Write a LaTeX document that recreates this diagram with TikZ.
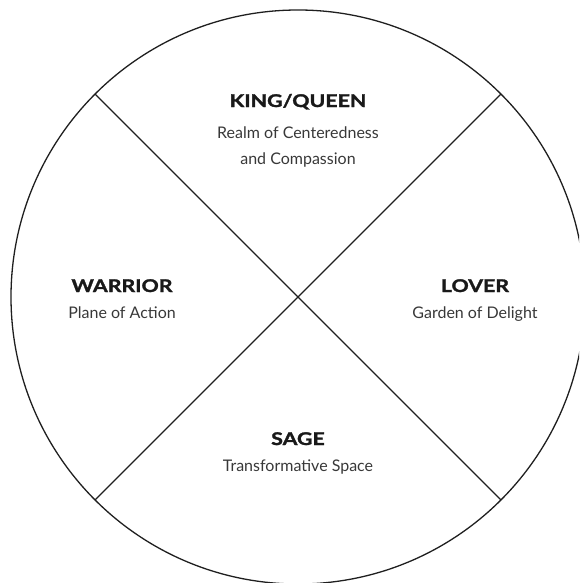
\documentclass[tikz,border=0pt]{standalone}
\usepackage{fontspec}
\setmainfont{Lato}
\newfontfamily\headfont{Lato}[UprightFont=*-Bold, FakeStretch=1.22, FakeBold=1.6]
\usetikzlibrary{calc}
\begin{document}
\begin{tikzpicture}[x=1pt,y=-1pt,
  title/.style={font=\headfont\fontsize{17.5}{22}\selectfont, text=black!90, inner sep=0pt, anchor=base},
  sub/.style={font=\fontsize{16}{25}\selectfont, text=black!78, inner sep=0pt, anchor=base, align=center},
  ring/.style={draw=black!88, line width=1.3pt},
  divider/.style={draw=black!88, line width=1.1pt}]
\useasboundingbox (0,0) rectangle (579,583);
\clip (0,0) rectangle (579,583);
\coordinate (c) at (298,297);
\draw[ring] (c) circle[radius=287];
\coordinate (ul) at ($(c)+(-203,-203)$);
\coordinate (lr) at ($(c)+(203,203)$);
\coordinate (ur) at ($(c)+(203,-203)$);
\coordinate (ll) at ($(c)+(-203,203)$);
\draw[divider] (ul) -- (lr);
\draw[divider] (ur) -- (ll);
\node[title] (king) at (298,107) {KING/QUEEN};
\node[sub] (kingsub) at (298,139) {Realm of Centeredness};
\node[sub] (kingsub2) at (298,164) {and Compassion};
\node[title] (warrior) at (122,292) {WARRIOR};
\node[sub] (warriorsub) at (122,318) {Plane of Action};
\node[title] (lover) at (475,292) {LOVER};
\node[sub] (loversub) at (475,318) {Garden of Delight};
\node[title] (sage) at (298,445) {SAGE};
\node[sub] (sagesub) at (298,471) {Transformative Space};
\end{tikzpicture}
\end{document}
